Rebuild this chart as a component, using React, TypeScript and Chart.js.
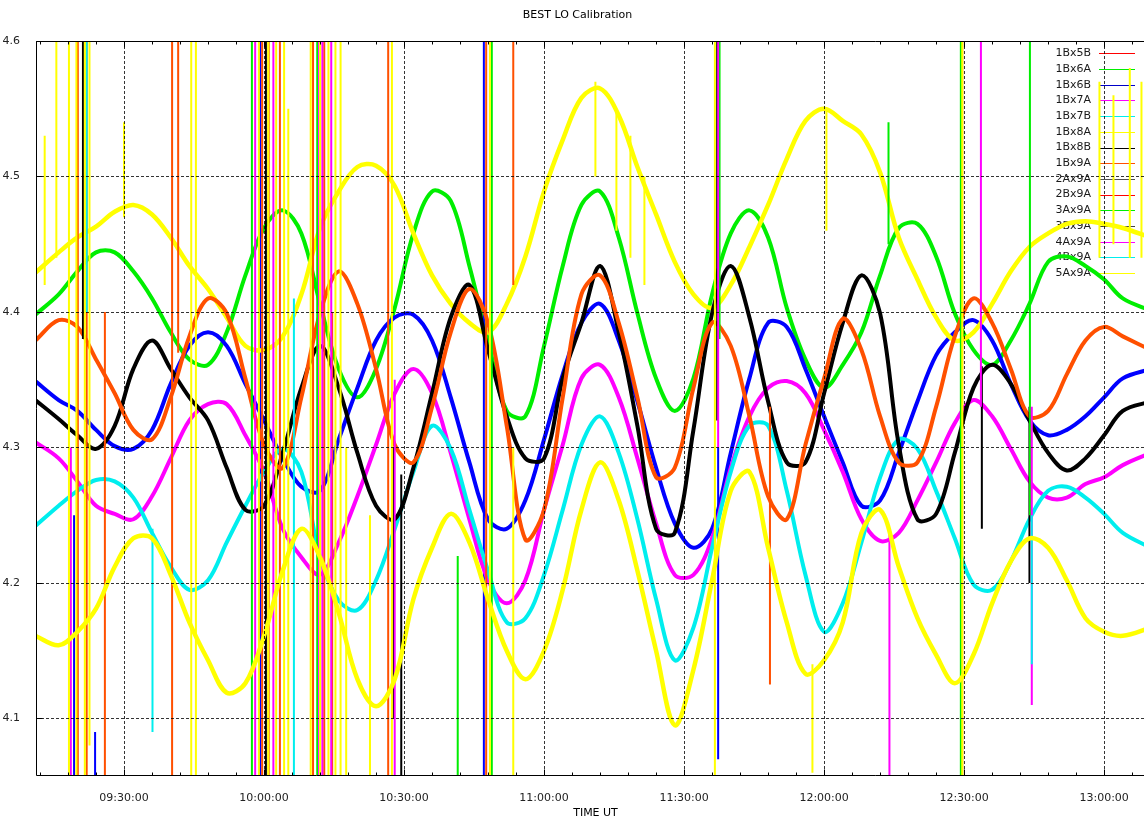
import React, { useEffect, useRef } from 'react';
import { Chart, registerables } from 'chart.js';

Chart.register(...registerables);

const chartTitle = 'BEST LO Calibration';
const xAxisTitle = 'TIME UT';

const seriesNames = ['1Bx5B', '1Bx6A', '1Bx6B', '1Bx7A', '1Bx7B', '1Bx8A', '1Bx8B', '1Bx9A', '2Ax9A', '2Bx9A', '3Ax9A', '3Bx9A', '4Ax9A', '4Bx9A', '5Ax9A'];
const seriesColors = ['#ff0000', '#00ee00', '#0000c8', '#ff00ff', '#00eeee', '#ffff00', '#000000', '#ff5000', '#505050', '#ff0000', '#00ee00', '#404040', '#ff00ff', '#00eeee', '#ffff00'];

// minutes after 09:00 UT
const times = [11, 16, 20, 24, 28, 32, 36, 40, 44, 48, 52, 56, 60, 64, 68, 72, 76, 80, 84, 88, 92, 96, 100, 104, 108, 112, 116, 120, 124, 128, 132, 136, 140, 144, 148, 152, 156, 160, 164, 168, 172, 176, 180, 184, 188, 192, 196, 200, 204, 208, 212, 216, 220, 224, 228, 232, 236, 240, 244, 250];

const v1Bx6A = [4.398, 4.413, 4.430, 4.444, 4.444, 4.430, 4.410, 4.385, 4.365, 4.361, 4.385, 4.427, 4.462, 4.475, 4.458,
  4.406, 4.358, 4.337, 4.358, 4.403, 4.458, 4.489, 4.482, 4.434, 4.379, 4.327, 4.323, 4.375, 4.434, 4.479,
  4.489, 4.455, 4.399, 4.351, 4.327, 4.351, 4.413, 4.458, 4.475, 4.455, 4.403, 4.365, 4.344, 4.361, 4.385,
  4.427, 4.462, 4.465, 4.441, 4.399, 4.372, 4.361, 4.379, 4.406, 4.437, 4.441, 4.434, 4.424, 4.410, 4.401];
const v1Bx6B = [4.349, 4.335, 4.327, 4.313, 4.301, 4.299, 4.313, 4.347, 4.375, 4.385, 4.375, 4.347, 4.320, 4.292, 4.271,
  4.268, 4.306, 4.344, 4.379, 4.396, 4.398, 4.379, 4.337, 4.289, 4.247, 4.240, 4.261, 4.306, 4.354, 4.392,
  4.406, 4.379, 4.334, 4.285, 4.244, 4.226, 4.240, 4.296, 4.351, 4.392, 4.389, 4.358, 4.323, 4.289, 4.257,
  4.261, 4.296, 4.334, 4.368, 4.385, 4.394, 4.379, 4.347, 4.320, 4.309, 4.313, 4.323, 4.337, 4.351, 4.358];
const v1Bx7A = [4.304, 4.292, 4.275, 4.257, 4.251, 4.247, 4.264, 4.292, 4.320, 4.332, 4.332, 4.309, 4.282, 4.240, 4.219,
  4.206, 4.230, 4.264, 4.302, 4.340, 4.358, 4.340, 4.296, 4.247, 4.202, 4.185, 4.202, 4.254, 4.302, 4.351,
  4.361, 4.337, 4.292, 4.244, 4.206, 4.206, 4.233, 4.285, 4.323, 4.344, 4.349, 4.340, 4.313, 4.282, 4.247,
  4.231, 4.237, 4.261, 4.289, 4.318, 4.335, 4.323, 4.299, 4.275, 4.263, 4.263, 4.273, 4.278, 4.287, 4.296];
const v1Bx7B = [4.242, 4.257, 4.268, 4.276, 4.275, 4.263, 4.237, 4.212, 4.195, 4.202, 4.230, 4.257, 4.282, 4.299, 4.282,
  4.219, 4.187, 4.180, 4.202, 4.240, 4.282, 4.316, 4.299, 4.254, 4.209, 4.171, 4.174, 4.206, 4.254, 4.302,
  4.323, 4.296, 4.247, 4.188, 4.143, 4.167, 4.226, 4.282, 4.316, 4.316, 4.268, 4.206, 4.164, 4.185, 4.230,
  4.278, 4.306, 4.299, 4.268, 4.233, 4.199, 4.195, 4.216, 4.247, 4.268, 4.271, 4.263, 4.251, 4.237, 4.226];
const v1Bx8A = [4.429, 4.444, 4.455, 4.463, 4.474, 4.479, 4.472, 4.455, 4.434, 4.417, 4.396, 4.375, 4.372, 4.382, 4.413,
  4.462, 4.489, 4.507, 4.508, 4.493, 4.458, 4.427, 4.406, 4.392, 4.385, 4.406, 4.441, 4.489, 4.527, 4.558,
  4.565, 4.545, 4.507, 4.472, 4.437, 4.413, 4.403, 4.420, 4.448, 4.479, 4.513, 4.541, 4.550, 4.541, 4.531,
  4.503, 4.455, 4.424, 4.396, 4.379, 4.385, 4.406, 4.430, 4.448, 4.458, 4.465, 4.467, 4.465, 4.462, 4.455];
const v1Bx8B = [4.335, 4.321, 4.309, 4.299, 4.316, 4.358, 4.379, 4.358, 4.337, 4.320, 4.285, 4.254, 4.257, 4.296, 4.344,
  4.375, 4.344, 4.296, 4.257, 4.247, 4.285, 4.340, 4.396, 4.420, 4.372, 4.323, 4.292, 4.292, 4.351, 4.392,
  4.434, 4.385, 4.316, 4.240, 4.237, 4.313, 4.399, 4.434, 4.396, 4.334, 4.289, 4.289, 4.340, 4.392, 4.427,
  4.399, 4.302, 4.247, 4.251, 4.296, 4.344, 4.361, 4.347, 4.320, 4.296, 4.283, 4.292, 4.309, 4.327, 4.334];
const v1Bx9A = [4.379, 4.394, 4.389, 4.365, 4.340, 4.313, 4.306, 4.337, 4.382, 4.410, 4.399, 4.351, 4.302, 4.285, 4.337,
  4.399, 4.430, 4.406, 4.358, 4.302, 4.289, 4.330, 4.385, 4.417, 4.392, 4.316, 4.232, 4.254, 4.337, 4.413,
  4.427, 4.392, 4.337, 4.278, 4.285, 4.344, 4.392, 4.375, 4.323, 4.264, 4.247, 4.302, 4.351, 4.395, 4.372,
  4.323, 4.289, 4.289, 4.330, 4.382, 4.410, 4.392, 4.358, 4.323, 4.327, 4.354, 4.379, 4.389, 4.382, 4.372];
const v5Ax9A = [4.161, 4.154, 4.164, 4.181, 4.212, 4.233, 4.233, 4.206, 4.171, 4.143, 4.119, 4.126, 4.161, 4.209, 4.240,
  4.219, 4.178, 4.129, 4.109, 4.129, 4.188, 4.226, 4.251, 4.230, 4.188, 4.150, 4.129, 4.150, 4.195, 4.254,
  4.289, 4.261, 4.209, 4.150, 4.095, 4.136, 4.202, 4.268, 4.282, 4.226, 4.171, 4.133, 4.143, 4.171, 4.237,
  4.254, 4.212, 4.174, 4.147, 4.126, 4.147, 4.185, 4.216, 4.233, 4.226, 4.202, 4.174, 4.164, 4.161, 4.167];

// glitches: [minute, low value, high value]
type Spike = [number, number, number];
const spikesYellow: Spike[] = [
  [13.0, 4.42, 4.53], [15.5, 4.44, 4.60], [18.2, 4.0, 4.7], [19.8, 4.0, 4.7], [21.6, 4.0, 4.7], [22.6, 4.08, 4.62],
  [30.0, 4.47, 4.54], [44.4, 4.0, 4.7], [45.4, 4.0, 4.7], [58.9, 4.0, 4.7], [60.9, 4.0, 4.7], [62.6, 4.0, 4.7],
  [64.3, 4.0, 4.7], [65.2, 4.0, 4.55], [70.0, 4.0, 4.7], [72.0, 4.0, 4.7], [73.8, 4.0, 4.7], [75.3, 4.0, 4.7],
  [76.4, 4.0, 4.6], [77.6, 4.0, 4.30], [82.7, 4.0, 4.25], [87.4, 4.0, 4.7],
  [108.4, 4.0, 4.7], [113.4, 4.0, 4.30], [131.0, 4.50, 4.57], [135.5, 4.46, 4.55], [138.5, 4.44, 4.53],
  [141.5, 4.42, 4.50], [156.6, 4.0, 4.7], [177.5, 4.06, 4.14], [180.5, 4.46, 4.55], [209.6, 4.0, 4.7],
  [239.0, 4.44, 4.57], [242.0, 4.45, 4.56], [245.5, 4.44, 4.58], [248.0, 4.44, 4.57],
];
const spikesOrange: Spike[] = [
  [20.1, 4.0, 4.7], [22.0, 4.0, 4.7], [25.9, 4.0, 4.40], [40.3, 4.0, 4.7], [41.6, 4.37, 4.7], [59.6, 4.0, 4.7],
  [61.0, 4.0, 4.7], [63.4, 4.0, 4.7], [70.5, 4.0, 4.7], [72.9, 4.0, 4.7], [74.6, 4.0, 4.40], [86.6, 4.0, 4.7],
  [107.6, 4.0, 4.7], [113.4, 4.42, 4.7], [168.4, 4.125, 4.33], [209.6, 4.0, 4.7],
];
const spikesBlack: Spike[] = [
  [21.2, 4.38, 4.7], [60.4, 4.0, 4.7], [87.7, 4.10, 4.30], [89.4, 4.0, 4.28], [157.1, 4.32, 4.7],
  [213.8, 4.24, 4.36], [224.0, 4.20, 4.33],
];
const spikesMagenta: Spike[] = [
  [18.6, 4.0, 4.30], [58.1, 4.0, 4.7], [62.0, 4.0, 4.7], [71.8, 4.0, 4.7], [72.5, 4.0, 4.7], [74.4, 4.0, 4.7],
  [88.0, 4.0, 4.35], [157.3, 4.30, 4.7], [194.0, 4.0, 4.24], [213.6, 4.33, 4.7], [224.5, 4.11, 4.33],
];
const spikesBlue: Spike[] = [
  [19.3, 4.0, 4.25], [23.8, 4.0, 4.09], [59.2, 4.0, 4.7], [107.1, 4.0, 4.7], [157.3, 4.07, 4.30],
];
const spikesGreen: Spike[] = [
  [57.4, 4.0, 4.7], [71.4, 4.0, 4.7], [101.5, 4.0, 4.22], [108.8, 4.0, 4.7], [157.6, 4.38, 4.7],
  [193.8, 4.45, 4.54], [209.3, 4.0, 4.7], [224.1, 4.25, 4.7],
];
const spikesCyan: Spike[] = [
  [22.0, 4.40, 4.7], [36.1, 4.09, 4.24], [66.4, 4.0, 4.41], [224.5, 4.14, 4.25],
];

const xTickMinutes = [30, 60, 90, 120, 150, 180, 210, 240];
const xMinorStep = 6;
const yTickValues = [4.1, 4.2, 4.3, 4.4, 4.5, 4.6];
const xRange = [11.14, 250.9];
const yRange = [4.0583, 4.6];

const FONT = '"DejaVu Sans", "Noto Sans", sans-serif';

function fmtTime(m: number): string {
  const h = 9 + Math.floor(m / 60);
  const mm = Math.round(m % 60);
  return `${String(h).padStart(2, '0')}:${String(mm).padStart(2, '0')}:00`;
}

function curvePoints(vals: number[]) {
  return times.map((t, i) => ({ x: t, y: vals[i] }));
}

function spikePoints(sp: Spike[]) {
  const out: { x: number; y: number | null }[] = [];
  for (const [t, lo, hi] of sp) {
    out.push({ x: t, y: lo }, { x: t, y: hi }, { x: t, y: null });
  }
  return out;
}

const gnuplotPlugin = {
  id: 'gnuplotFrame',
  beforeDatasetsDraw(chart: any) {
    const { ctx, chartArea } = chart;
    ctx.save();
    ctx.font = `11px ${FONT}`;
    ctx.textAlign = 'right';
    ctx.textBaseline = 'middle';
    const textRight = chartArea.right - 64;
    const lineL = chartArea.right - 56;
    const lineR = chartArea.right - 20;
    seriesNames.forEach((name, i) => {
      const yy = chartArea.top + 12.3 + 15.7 * i;
      ctx.fillStyle = '#1a1a1a';
      ctx.fillText(name, textRight, yy);
      ctx.strokeStyle = seriesColors[i];
      ctx.lineWidth = 1;
      ctx.beginPath();
      ctx.moveTo(lineL, Math.round(yy) + 0.5);
      ctx.lineTo(lineR, Math.round(yy) + 0.5);
      ctx.stroke();
    });
    ctx.restore();
  },
  afterDatasetsDraw(chart: any) {
    const { ctx, chartArea } = chart;
    const { left, right, top, bottom } = chartArea;
    const xs = chart.scales.x;
    const ys = chart.scales.y;
    ctx.save();
    ctx.strokeStyle = 'rgba(0,0,0,0.8)';
    ctx.lineWidth = 1;
    ctx.setLineDash([3, 2]);
    ctx.beginPath();
    for (const v of xTickMinutes) {
      const px = Math.round(xs.getPixelForValue(v)) + 0.5;
      ctx.moveTo(px, top);
      ctx.lineTo(px, bottom);
    }
    for (const v of yTickValues) {
      const py = Math.round(ys.getPixelForValue(v)) + 0.5;
      ctx.moveTo(left, py);
      ctx.lineTo(right, py);
    }
    ctx.stroke();
    ctx.setLineDash([]);
    ctx.strokeStyle = '#000';
    ctx.lineWidth = 1;
    const L = Math.round(left) + 0.5;
    const T = Math.round(top) + 0.5;
    const B = Math.round(bottom) + 0.5;
    const R = Math.round(right) + 0.5;
    ctx.beginPath();
    ctx.moveTo(L, T); ctx.lineTo(R, T); ctx.lineTo(R, B); ctx.lineTo(L, B); ctx.closePath();
    ctx.stroke();
    ctx.beginPath();
    for (let m = Math.ceil(xRange[0] / xMinorStep) * xMinorStep; m <= xRange[1]; m += xMinorStep) {
      const major = m % 30 === 0;
      const len = major ? 6 : 3;
      const px = Math.round(xs.getPixelForValue(m)) + 0.5;
      ctx.moveTo(px, B); ctx.lineTo(px, B - len);
      ctx.moveTo(px, T); ctx.lineTo(px, T + len);
    }
    for (const v of yTickValues) {
      const py = Math.round(ys.getPixelForValue(v)) + 0.5;
      ctx.moveTo(L, py); ctx.lineTo(L + 6, py);
    }
    ctx.stroke();
    ctx.restore();
  },
};

export default function App() {
  const canvasRef = useRef<HTMLCanvasElement | null>(null);

  useEffect(() => {
    const canvas = canvasRef.current;
    if (!canvas) return;

    const curves = [
      { idx: 1, vals: v1Bx6A },
      { idx: 2, vals: v1Bx6B },
      { idx: 3, vals: v1Bx7A },
      { idx: 4, vals: v1Bx7B },
      { idx: 5, vals: v1Bx8A },
      { idx: 6, vals: v1Bx8B },
      { idx: 7, vals: v1Bx9A },
      { idx: 14, vals: v5Ax9A },
    ];
    const spikeSets = [
      { idx: 2, sp: spikesBlue, color: '#0000ff' },
      { idx: 8, sp: spikesBlack, color: '#000000' },
      { idx: 9, sp: spikesOrange, color: '#ff5000' },
      { idx: 10, sp: spikesGreen, color: '#00ee00' },
      { idx: 12, sp: spikesMagenta, color: '#ff00ff' },
      { idx: 13, sp: spikesCyan, color: '#00eeee' },
      { idx: 14, sp: spikesYellow, color: '#ffff00' },
    ];
    const curveColor: Record<number, string> = {
      1: '#00ee00', 2: '#0000ff', 3: '#ff00ff', 4: '#00eeee', 5: '#ffff00', 6: '#000000', 7: '#ff5000', 14: '#ffff00',
    };

    const datasets: any[] = [];
    curves.forEach((c) => {
      datasets.push({
        label: seriesNames[c.idx],
        data: curvePoints(c.vals),
        borderColor: curveColor[c.idx],
        backgroundColor: curveColor[c.idx],
        borderWidth: c.idx === 5 || c.idx === 14 ? 4.5 : 4,
        pointRadius: 0,
        tension: 0.35,
        fill: false,
        order: 100 - c.idx,
      });
    });
    spikeSets.forEach((s) => {
      datasets.push({
        label: seriesNames[s.idx] + ' glitch',
        data: spikePoints(s.sp),
        borderColor: s.color,
        backgroundColor: s.color,
        borderWidth: 2,
        pointRadius: 0,
        tension: 0,
        spanGaps: false,
        fill: false,
        order: 100 - s.idx - 0.5,
      });
    });

    const chart = new Chart(canvas, {
      type: 'line',
      data: { datasets },
      options: {
        animation: false,
        responsive: false,
        devicePixelRatio: 1,
        layout: { padding: { left: 0, right: 39, top: 0, bottom: 0 } },
        plugins: {
          legend: { display: false },
          tooltip: { enabled: false },
          title: {
            display: true,
            text: chartTitle,
            color: '#000',
            font: { family: FONT, size: 11, weight: 'normal' as any },
            padding: { top: 8.4, bottom: 19.4 },
          },
        },
        scales: {
          x: {
            type: 'linear',
            min: xRange[0],
            max: xRange[1],
            afterBuildTicks: (s: any) => {
              s.ticks = xTickMinutes.map((v) => ({ value: v }));
            },
            afterFit: (s: any) => {
              s.height = 48;
            },
            grid: { display: false },
            border: { display: false },
            ticks: {
              autoSkip: false,
              maxRotation: 0,
              padding: 8.4,
              color: '#222',
              font: { family: FONT, size: 11 },
              callback: (v: any) => fmtTime(Number(v)),
            },
            title: {
              display: true,
              text: xAxisTitle,
              color: '#000',
              font: { family: FONT, size: 11 },
              padding: { top: 0, bottom: 3.4 },
            },
          },
          y: {
            type: 'linear',
            min: yRange[0],
            max: yRange[1],
            afterBuildTicks: (s: any) => {
              s.ticks = yTickValues.map((v) => ({ value: v }));
            },
            afterFit: (s: any) => {
              s.width = 36;
            },
            grid: { display: false },
            border: { display: false },
            ticks: {
              padding: 8,
              color: '#222',
              font: { family: FONT, size: 11 },
              callback: (v: any) => Number(v).toFixed(1),
            },
          },
        },
      },
      plugins: [gnuplotPlugin],
    });

    return () => chart.destroy();
  }, []);

  return (
    <div style={{ position: 'absolute', left: 0, top: 0, width: 1144, height: 823, overflow: 'hidden', background: '#fff' }}>
      <canvas ref={canvasRef} width={1194} height={823} style={{ width: 1194, height: 823, display: 'block' }} />
    </div>
  );
}
